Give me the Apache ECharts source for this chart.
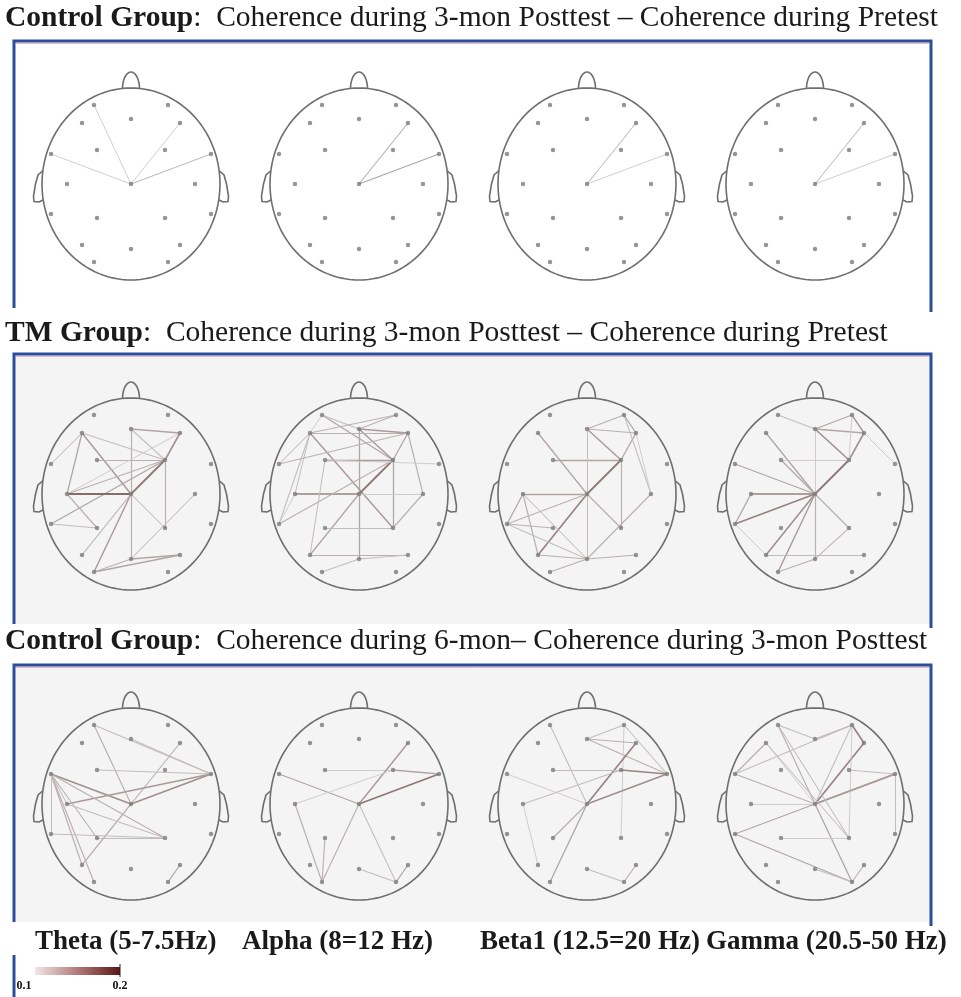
<!DOCTYPE html>
<html>
<head>
<meta charset="utf-8">
<script src="https://cdn.jsdelivr.net/npm/echarts@6/dist/echarts.min.js"></script>
<style>
html,body{margin:0;padding:0;background:#fff;}
#chart{width:961px;height:997px;}
</style>
</head>
<body>
<div id="chart"></div>
<script>
// ---------------- DATA ----------------
const electrodeNames = ['Fp1','Fp2','Fz','F7','F8','F3','F4','FT7','FT8','C3','Cz','C4','TP7','TP8','P3','P4','P7','P8','Pz','O1','O2'];
const electrodeX = [-37, 37, 0, -49, 49, -34, 34, -80, 80, -64, 0, 64, -80, 80, -34, 34, -49, 49, 0, -37, 37];
const electrodeY = [-79, -79, -65, -61, -61, -34, -34, -30, -30, 0, 0, 0, 30, 30, 34, 34, 61, 61, 65, 78, 78];

const bandLabels = ['Theta (5-7.5Hz)', 'Alpha (8=12 Hz)', 'Beta1 (12.5=20 Hz)', 'Gamma (20.5-50 Hz)'];
const rowTitleBold = ['Control Group', 'TM Group', 'Control Group'];
const rowTitleRest = [
  ':  Coherence during 3-mon Posttest \u2013 Coherence during Pretest',
  ':  Coherence during 3-mon Posttest \u2013 Coherence during Pretest',
  ':  Coherence during 6-mon\u2013 Coherence during 3-mon Posttest'
];
const colorbarMin = 0.1;
const colorbarMax = 0.2;

// edges: [electrode A, electrode B, coherence difference]
const ctrlPost3Theta = [['Cz','Fp1',0.10],['Cz','FT7',0.10],['Cz','F8',0.10],['Cz','FT8',0.11]];
const ctrlPost3Alpha = [['Cz','F8',0.12],['Cz','FT8',0.13]];
const ctrlPost3Beta1 = [['Cz','F8',0.11],['Cz','FT8',0.10]];
const ctrlPost3Gamma = [['Cz','F8',0.11],['Cz','FT8',0.10]];

const tmPost3Theta = [['Fz','F8',0.13],['Fz','Pz',0.12],['Fz','F4',0.11],['F7','Cz',0.14],['F7','C3',0.13],['F7','FT7',0.11],
  ['F3','F4',0.12],['F4','C3',0.12],['F4','TP7',0.13],['C3','Cz',0.18],['Cz','F4',0.17],['F4','F8',0.15],['F4','P4',0.12],
  ['Cz','P4',0.11],['O1','Cz',0.14],['O1','P8',0.13],['Pz','P8',0.13],['O1','Pz',0.12],['C4','Pz',0.11],['C3','P3',0.12],
  ['TP7','P3',0.11],['P7','Cz',0.12],['F7','F4',0.11],['C3','F8',0.10]];
const tmPost3Alpha = [['Fp1','F4',0.13],['Fp1','Fz',0.11],['Fp2','Fz',0.12],['Fp2','F7',0.12],['Fz','F8',0.14],['Fz','F4',0.14],
  ['Fz','Pz',0.13],['F7','F8',0.12],['F7','P4',0.14],['F7','C3',0.11],['F7','TP7',0.11],['F3','F4',0.14],['F4','P4',0.13],
  ['Cz','F4',0.17],['F4','F8',0.13],['F8','C4',0.12],['C4','P4',0.12],['C3','Cz',0.16],['Cz','C4',0.10],['Cz','P7',0.13],
  ['TP7','F4',0.12],['FT7','F8',0.12],['P3','P4',0.11],['P7','P8',0.12],['O1','Pz',0.11],['Pz','P8',0.11],['FT7','F7',0.11],
  ['Fp1','F7',0.10],['F3','FT8',0.10],['TP7','C3',0.10],['P7','F3',0.11]];
const tmPost3Beta1 = [['Fz','Fp2',0.12],['Fz','F8',0.12],['Fz','F4',0.14],['Fp2','F8',0.13],['F8','F4',0.13],['Fp2','C4',0.11],
  ['F7','Cz',0.13],['F3','F4',0.13],['Cz','F4',0.17],['Fz','Pz',0.11],['Cz','P4',0.12],['Cz','P7',0.16],['C3','Cz',0.13],
  ['C3','TP7',0.13],['C3','P7',0.12],['TP7','P3',0.12],['TP7','Cz',0.12],['C4','Pz',0.12],['P7','Pz',0.12],['Pz','P8',0.12],
  ['O1','Pz',0.12],['F4','P4',0.12],['F8','C4',0.10],['C3','Pz',0.11],['TP7','Pz',0.11]];
const tmPost3Gamma = [['Fp1','Fz',0.11],['Fz','Fp2',0.13],['Fz','F8',0.13],['Fz','F4',0.15],['Fz','Cz',0.10],['Fp2','F8',0.14],
  ['F8','F4',0.15],['Cz','F4',0.17],['F8','FT8',0.10],['F7','Cz',0.13],['F3','Cz',0.13],['FT7','Cz',0.13],['C3','Cz',0.16],
  ['C3','TP7',0.13],['TP7','Cz',0.16],['Cz','P4',0.12],['Cz','P7',0.15],['Cz','O1',0.14],['Cz','Pz',0.12],['P7','P8',0.11],
  ['O1','Pz',0.12],['Pz','P4',0.11],['F3','F4',0.10],['TP7','P7',0.10],['Fp2','F4',0.10]];

const ctrlPost6Theta = [['Fp1','FT8',0.11],['Fp1','Cz',0.12],['F8','P7',0.12],['F3','FT8',0.11],['FT7','Cz',0.15],['Cz','FT8',0.15],
  ['C3','FT8',0.14],['FT7','P4',0.12],['FT7','P7',0.12],['FT7','O1',0.12],['FT7','TP7',0.11],['FT7','P3',0.12],['FT7','C3',0.11],
  ['P3','P4',0.11],['Cz','P7',0.12],['P8','O2',0.13],['C3','P4',0.11],['Fz','FT8',0.11],['TP7','P4',0.11]];
const ctrlPost6Alpha = [['FT7','Cz',0.13],['F3','F4',0.10],['F4','FT8',0.13],['Cz','FT8',0.17],['Cz','F8',0.14],['C3','F4',0.10],
  ['C3','O1',0.12],['P3','O1',0.12],['Cz','O1',0.12],['Cz','O2',0.11],['Pz','O2',0.11],['O2','P8',0.13]];
const ctrlPost6Beta1 = [['Fp1','Cz',0.11],['Fz','Fp2',0.11],['Fz','FT8',0.12],['Fp2','FT8',0.11],['Fp2','P4',0.10],['F8','Cz',0.16],
  ['Fz','F8',0.12],['F3','F4',0.11],['F4','FT8',0.16],['Cz','FT8',0.15],['FT7','Cz',0.10],['C3','F4',0.11],['Cz','P3',0.12],
  ['Cz','O1',0.13],['Pz','O2',0.11],['O2','P8',0.12],['C3','P7',0.10]];
const ctrlPost6Gamma = [['Fp1','Fz',0.11],['Fz','Fp2',0.12],['Fp1','Cz',0.12],['Fp2','F8',0.16],['F8','Cz',0.16],['Cz','FT8',0.17],
  ['Fp2','Cz',0.11],['Fp2','P4',0.10],['Fp2','FT7',0.11],['F7','FT7',0.12],['F7','P4',0.11],['F4','FT8',0.11],['FT7','Cz',0.12],
  ['TP7','FT8',0.13],['TP7','O2',0.13],['C3','Cz',0.10],['Cz','O2',0.13],['FT8','TP8',0.11],['P3','P4',0.10],['Pz','O2',0.11],
  ['P8','O2',0.12],['F7','Cz',0.10],['Fp1','P4',0.11]];

const panelEdges = [
  [ctrlPost3Theta, ctrlPost3Alpha, ctrlPost3Beta1, ctrlPost3Gamma],
  [tmPost3Theta, tmPost3Alpha, tmPost3Beta1, tmPost3Gamma],
  [ctrlPost6Theta, ctrlPost6Alpha, ctrlPost6Beta1, ctrlPost6Gamma]
];

// ---------------- LAYOUT / STYLE ----------------
const colCX = [131, 359, 587, 815];
const rowCY = [184, 494, 804];
const HALF = 115;
const HEAD_RX = 89, HEAD_RY = 96;
const lowRGB = [204, 199, 199], highRGB = [118, 84, 84];
const FONT = '"Liberation Serif", "Times New Roman", serif';

function edgeColor(v) {
  let t = (v - colorbarMin) / (colorbarMax - colorbarMin);
  t = Math.max(0, Math.min(1, t));
  const c = lowRGB.map((l, i) => Math.round(l + (highRGB[i] - l) * t));
  return 'rgb(' + c.join(',') + ')';
}
function pos(name) {
  const i = electrodeNames.indexOf(name);
  return [electrodeX[i], electrodeY[i]];
}

const grids = [], xAxes = [], yAxes = [], series = [];
let gi = 0;
for (let r = 0; r < 3; r++) {
  for (let c = 0; c < 4; c++) {
    grids.push({left: colCX[c] - HALF, top: rowCY[r] - HALF, width: 2 * HALF, height: 2 * HALF});
    xAxes.push({gridIndex: gi, type: 'value', min: -HALF, max: HALF, show: false});
    yAxes.push({gridIndex: gi, type: 'value', min: -HALF, max: HALF, inverse: true, show: false});
    // head outline
    series.push({
      type: 'custom', xAxisIndex: gi, yAxisIndex: gi, silent: true, z: 1,
      data: [[0, 0]],
      renderItem: function (params, api) {
        const o = api.coord([api.value(0), api.value(1)]);
        const u = api.size([1, 1]);
        const rx = HEAD_RX * u[0], ry = HEAD_RY * u[1];
        const ell = [];
        for (let k = 0; k <= 120; k++) {
          const a = k / 120 * Math.PI * 2;
          ell.push([o[0] + rx * Math.cos(a), o[1] + ry * Math.sin(a)]);
        }
        const nose = [];
        for (let k = 0; k <= 20; k++) {
          const a = Math.PI + k / 20 * Math.PI;
          nose.push([o[0] + 8.5 * u[0] * Math.cos(a), o[1] - ry + 1 + 17 * u[1] * Math.sin(a)]);
        }
        const earL = [[-88.5, -13], [-93, -9], [-95.5, 0], [-97.5, 12], [-97, 17.5], [-92, 18], [-88, 16]];
        const toPx = (p, s) => [o[0] + s * p[0] * u[0], o[1] + p[1] * u[1]];
        const st = {stroke: '#6e6e6e', fill: null, lineWidth: 1.6};
        return {
          type: 'group',
          children: [
            {type: 'polyline', shape: {points: ell}, style: st},
            {type: 'polyline', shape: {points: nose, smooth: 0.3}, style: st},
            {type: 'polyline', shape: {points: earL.map(p => toPx(p, 1))}, style: st},
            {type: 'polyline', shape: {points: earL.map(p => toPx(p, -1))}, style: st}
          ]
        };
      }
    });
    // connections
    series.push({
      type: 'lines', coordinateSystem: 'cartesian2d', xAxisIndex: gi, yAxisIndex: gi, silent: true, z: 2,
      data: panelEdges[r][c].map(e => ({
        coords: [pos(e[0]), pos(e[1])],
        lineStyle: {color: edgeColor(e[2]), width: 0.9 + 1.3 * (e[2] - colorbarMin) / (colorbarMax - colorbarMin), opacity: 1}
      }))
    });
    // electrodes
    series.push({
      type: 'scatter', xAxisIndex: gi, yAxisIndex: gi, silent: true, z: 3,
      symbolSize: 4.5,
      itemStyle: {color: '#7c7c7c'},
      data: electrodeX.map((x, i) => [x, electrodeY[i]])
    });
    gi++;
  }
}

// frames, titles, labels, colorbar
const frameTop = [41, 354, 665];
const frameBottom = [308, 624, 922];
const frameL = 14, frameR = 931;
const titleY = [18, 333, 641];
const graphics = [];
for (let r = 0; r < 3; r++) {
  if (r > 0) {
    graphics.push({type: 'rect', z: -10, shape: {x: frameL, y: frameTop[r], width: frameR - frameL, height: frameBottom[r] - frameTop[r]}, style: {fill: '#f4f4f4'}});
  }
  graphics.push({type: 'polyline', z: 10, shape: {points: [[frameL, frameBottom[r]], [frameL, frameTop[r]], [frameR, frameTop[r]], [frameR, frameBottom[r] + 4]]}, style: {stroke: '#2c4d9c', lineWidth: 3, fill: null}});
  graphics.push({type: 'line', z: 9, shape: {x1: frameL + 2, y1: frameTop[r] + 2.5, x2: frameR - 2, y2: frameTop[r] + 2.5}, style: {stroke: '#e6b4c2', lineWidth: 1}});
  graphics.push({
    type: 'text', z: 20, x: 5, y: titleY[r],
    style: {
      text: '{b|' + rowTitleBold[r] + '}' + rowTitleRest[r],
      font: '29.5px ' + FONT, fill: '#1a1a1a', textVerticalAlign: 'middle', verticalAlign: 'middle',
      rich: {b: {fontWeight: 'bold', fontSize: 29.5, fontFamily: FONT, fill: '#1a1a1a'}}
    }
  });
}
const bandX = [35, 242, 480, 706];
for (let c = 0; c < 4; c++) {
  graphics.push({type: 'text', z: 20, x: bandX[c], y: 942, style: {text: bandLabels[c], font: 'bold 27px ' + FONT, fill: '#1a1a1a', verticalAlign: 'middle', textVerticalAlign: 'middle'}});
}
graphics.push({type: 'line', shape: {x1: frameL, y1: 955, x2: frameL, y2: 997}, style: {stroke: '#2c4d9c', lineWidth: 3}});
graphics.push({type: 'rect', shape: {x: 35, y: 967, width: 85, height: 8},
  style: {fill: new echarts.graphic.LinearGradient(0, 0, 1, 0, [{offset: 0, color: '#f3e6e6'}, {offset: 0.5, color: '#b27a7a'}, {offset: 1, color: '#5a1515'}])}});
graphics.push({type: 'line', shape: {x1: 120, y1: 964, x2: 120, y2: 977}, style: {stroke: '#222', lineWidth: 1}});
graphics.push({type: 'text', x: 24, y: 986, style: {text: String(colorbarMin), font: 'bold 12px ' + FONT, fill: '#111', align: 'center', textAlign: 'center', verticalAlign: 'middle', textVerticalAlign: 'middle'}});
graphics.push({type: 'text', x: 120, y: 986, style: {text: String(colorbarMax), font: 'bold 12px ' + FONT, fill: '#111', align: 'center', textAlign: 'center', verticalAlign: 'middle', textVerticalAlign: 'middle'}});

const chart = echarts.init(document.getElementById('chart'), null, {renderer: 'canvas'});
chart.setOption({
  animation: false,
  backgroundColor: '#ffffff',
  grid: grids,
  xAxis: xAxes,
  yAxis: yAxes,
  series: series,
  graphic: graphics
});
</script>
</body>
</html>
